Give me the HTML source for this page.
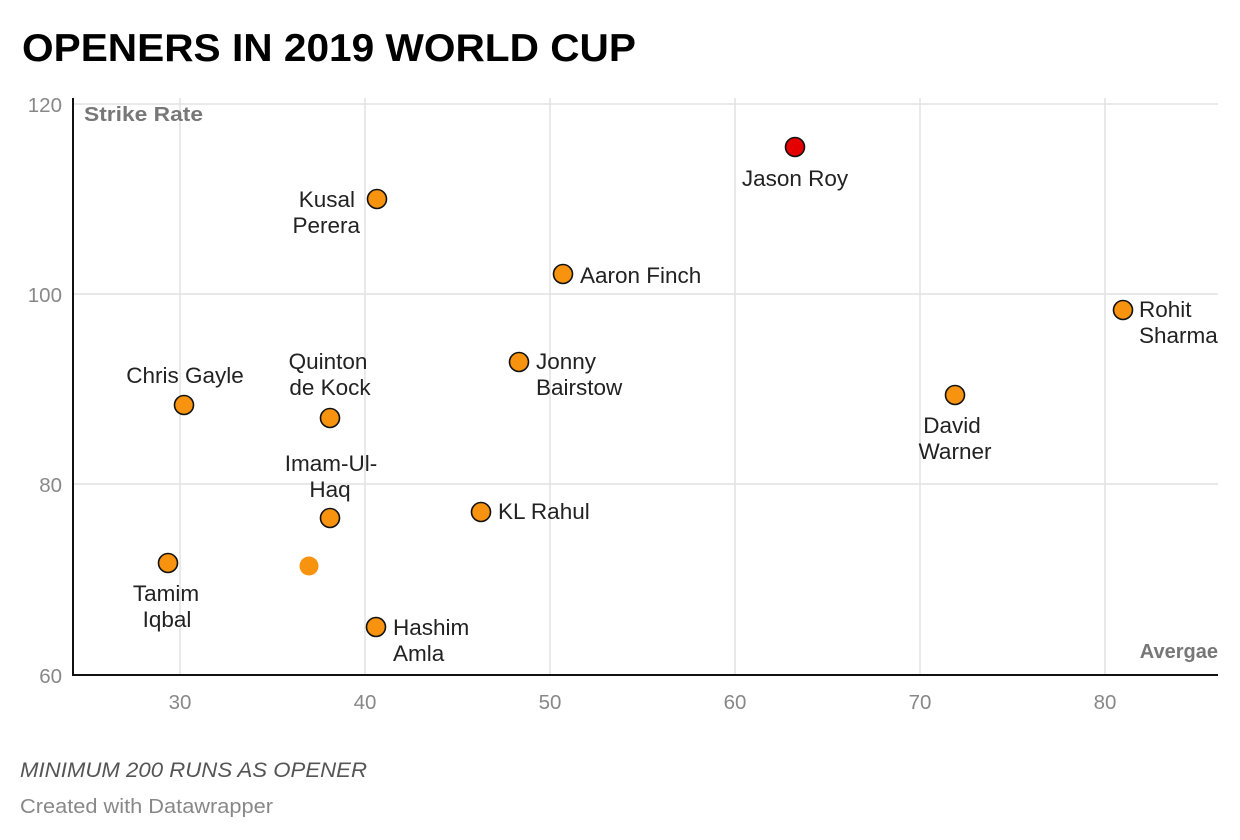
<!DOCTYPE html><html><head><style>body{margin:0;background:#fff}svg{display:block}</style></head><body>
<svg width="1240" height="840" xmlns="http://www.w3.org/2000/svg" font-family="Liberation Sans, sans-serif">
<text x="22" y="61" font-size="39" font-weight="bold" fill="#000" textLength="614" lengthAdjust="spacingAndGlyphs">OPENERS IN 2019 WORLD CUP</text>
<g stroke="#e2e2e2" stroke-width="1.5">
<line x1="73" y1="104" x2="1218" y2="104"/><line x1="73" y1="294" x2="1218" y2="294"/><line x1="73" y1="484" x2="1218" y2="484"/>
<line x1="180" y1="98" x2="180" y2="675"/><line x1="365" y1="98" x2="365" y2="675"/><line x1="550" y1="98" x2="550" y2="675"/><line x1="735" y1="98" x2="735" y2="675"/><line x1="920" y1="98" x2="920" y2="675"/><line x1="1105" y1="98" x2="1105" y2="675"/>
</g>
<line x1="73" y1="98" x2="73" y2="676" stroke="#111" stroke-width="2"/>
<line x1="72" y1="675" x2="1218" y2="675" stroke="#111" stroke-width="2"/>
<g font-size="20.5" fill="#888" text-anchor="end">
<text x="62" y="112">120</text><text x="62" y="302">100</text><text x="62" y="492">80</text><text x="62" y="683">60</text></g>
<g font-size="20.5" fill="#888" text-anchor="middle">
<text x="180" y="709">30</text><text x="365" y="709">40</text><text x="550" y="709">50</text><text x="735" y="709">60</text><text x="920" y="709">70</text><text x="1105" y="709">80</text></g>
<text x="84" y="121" font-size="20" font-weight="bold" fill="#777" textLength="119" lengthAdjust="spacingAndGlyphs">Strike Rate</text>
<text x="1218" y="658" font-size="20" font-weight="bold" fill="#777" text-anchor="end">Avergae</text>
<g stroke="#111" stroke-width="1.6" fill="#f7930f">
<circle cx="795" cy="147" r="9.5" fill="#e50000"/>
<circle cx="377" cy="199" r="9.5"/><circle cx="563" cy="274" r="9.5"/><circle cx="1123" cy="310" r="9.5"/>
<circle cx="519" cy="362" r="9.5"/><circle cx="184" cy="405" r="9.5"/><circle cx="330" cy="418" r="9.5"/>
<circle cx="955" cy="395" r="9.5"/><circle cx="330" cy="518" r="9.5"/><circle cx="481" cy="512" r="9.5"/>
<circle cx="168" cy="563" r="9.5"/><circle cx="376" cy="627" r="9.5"/></g>
<circle cx="309" cy="566" r="9.5" fill="#f7930f"/>
<g font-size="22.5" fill="#222">
<text x="795" y="186" text-anchor="middle">Jason Roy</text>
<text x="355" y="207" text-anchor="end">Kusal</text><text x="360" y="233" text-anchor="end">Perera</text>
<text x="580" y="283">Aaron Finch</text>
<text x="1139" y="317">Rohit</text><text x="1139" y="343">Sharma</text>
<text x="536" y="369">Jonny</text><text x="536" y="395">Bairstow</text>
<text x="185" y="383" text-anchor="middle">Chris Gayle</text>
<text x="328" y="369" text-anchor="middle">Quinton</text><text x="330" y="395" text-anchor="middle">de Kock</text>
<text x="952" y="433" text-anchor="middle">David</text><text x="955" y="459" text-anchor="middle">Warner</text>
<text x="331" y="471" text-anchor="middle">Imam-Ul-</text><text x="330" y="497" text-anchor="middle">Haq</text>
<text x="498" y="519">KL Rahul</text>
<text x="166" y="601" text-anchor="middle">Tamim</text><text x="167" y="627" text-anchor="middle">Iqbal</text>
<text x="393" y="635">Hashim</text><text x="393" y="661">Amla</text>
</g>
<text x="20" y="777" font-size="21" font-style="italic" fill="#555" textLength="347" lengthAdjust="spacingAndGlyphs">MINIMUM 200 RUNS AS OPENER</text>
<text x="20" y="813" font-size="20" fill="#888" textLength="253" lengthAdjust="spacingAndGlyphs">Created with Datawrapper</text>
</svg></body></html>
